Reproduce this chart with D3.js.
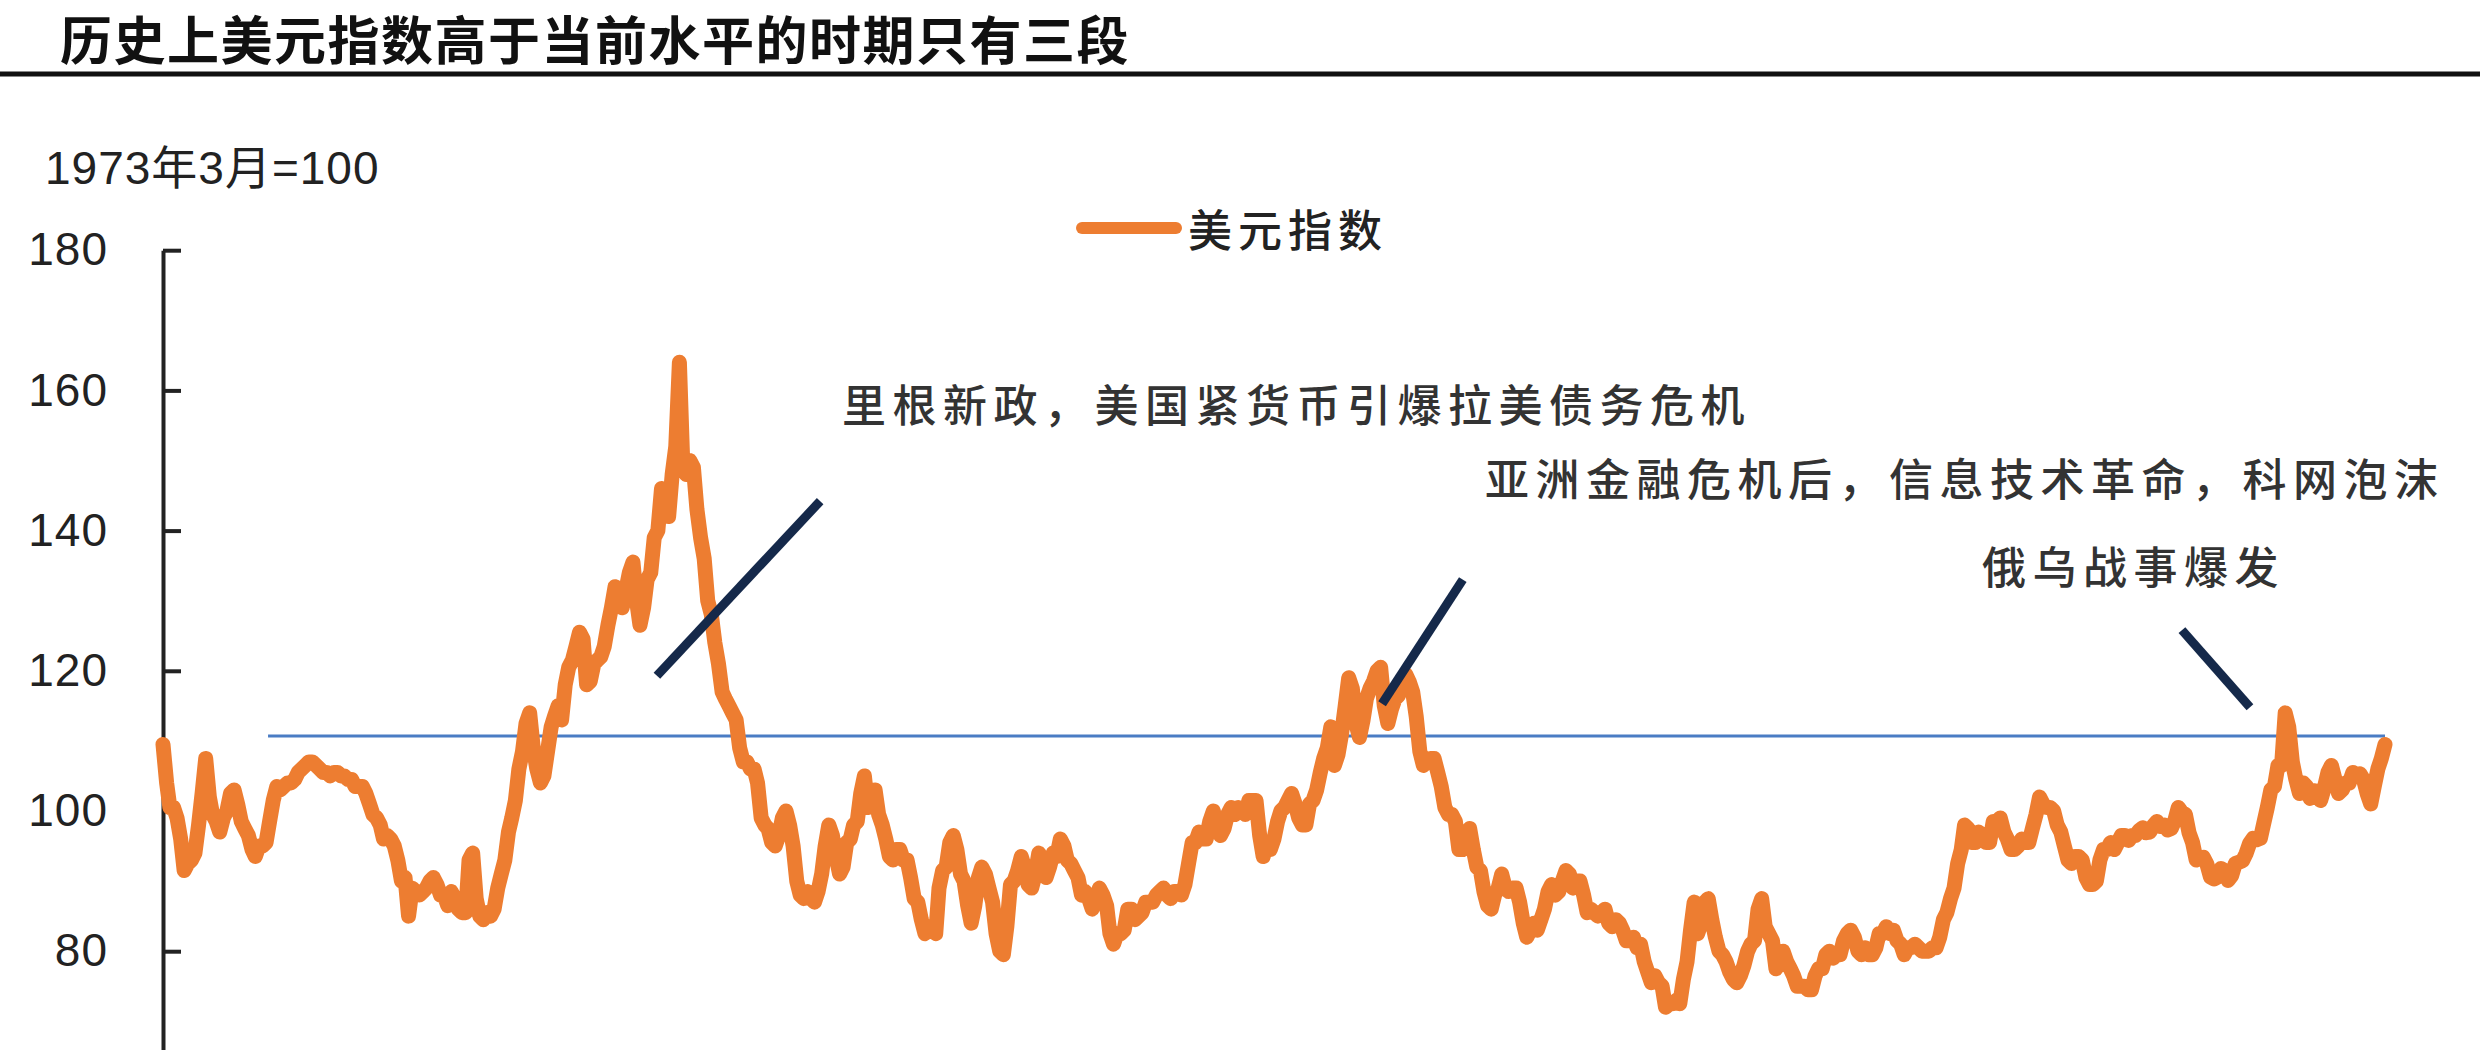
<!DOCTYPE html>
<html><head><meta charset="utf-8">
<script src="https://cdn.jsdelivr.net/npm/d3@7"></script>
<style>
body{margin:0;background:#fff}
svg{display:block}
</style>
</head><body>
<svg id="chart" width="2480" height="1050"></svg>
<script>
// ---------- data ----------
const chartTitle = "历史上美元指数高于当前水平的时期只有三段";
const unitLabel = "1973年3月=100";
const seriesName = "美元指数";
const firstMonth = [1973, 0]; // Jan 1973, monthly observations

const dxy1970s = [
  109.5,104,100.5,100.5,99,96,91.5,92.5,93,94,98,102.5,          // 1973
  107.5,102,99.5,98.5,97,99,100,102.5,103,101,98.5,97.5,         // 1974
  96.5,94.5,93.5,95,95,95.5,98.5,101.5,103.5,103,103.5,104,      // 1975
  104,104.5,105.5,106,106.5,107,107,106.5,106,105.5,105.5,105,   // 1976
  105.5,105.5,105,105,104.5,104.5,103.5,103.5,103.5,102.5,101,99.5, // 1977
  99,98,96,96.5,96,95,93,90,90.5,85,89,88.5,                     // 1978
  88,88.5,89,90,90.5,89.5,88,88,86.5,88.5,87.5,86                // 1979
];
const dxy1980s = [
  85.5,85.5,93,94,87.5,85,84.5,85.5,85,86,89,91,                 // 1980
  93,97,99,101.5,106,108.5,112.5,114,109,106,104,105,            // 1981
  108.5,112,113.5,115,113,118,120.5,121.5,123.5,125.5,124.5,118, // 1982
  118.5,121,121.5,122,123.5,126.5,129,132,131,129,131.5,134,     // 1983
  135.5,130,126.5,129,133,134,139,140,146,145,142,148,           // 1984
  152,164,150,148,150,149,143,139,136,130,128,124,               // 1985
  121,117,116,115,114,113,109,107,107,106,106,104,               // 1986
  99,98,97.5,95.5,95,96.5,99,100,98,95,90,88,                    // 1987
  87.5,88.5,87.5,87,88.5,91,95,98,96.5,93.5,91,92,               // 1988
  95.5,96,98,98.5,102.5,105,100.5,102,103,99.5,98,96             // 1989
];
const dxy1990s = [
  93.5,93,94.5,94.5,93,93,90.5,87.5,87,84.5,82.5,83.5,           // 1990
  83.5,82.5,89,91.5,92,95.5,96.5,94.5,91,90,86.5,84,             // 1991
  86.5,90.5,92,91,89,87,82.5,80,79.5,83.5,89.5,90,               // 1992
  91.5,93.5,92,89.5,89,91,94,93,90.5,92,94,93.5,                 // 1993
  96,95,93,92.5,91.5,90.5,88,88.5,87.5,86,87.5,89,               // 1994
  88,86.5,82.5,81,82.5,82.5,83,86,86,84.5,85,85.5,               // 1995
  87,87,87,88,88.5,89,88,87.5,88.5,88.5,88,89.5,                 // 1996
  92.5,95.5,95.5,97,96,96,98.5,100,97.5,96.5,97.5,99.5,          // 1997
  100.5,99.5,100.5,100,99.5,101.5,101.5,101.5,96.5,93.5,95.5,94.5, // 1998
  96,98.5,100,100.5,101.5,102.5,101,99,98,98,101,101.5           // 1999
];
const dxy2000s = [
  103,105.5,107.5,109,112,106.5,108,111,115,119,117.5,112.5,     // 2000
  110.5,113,116,117.5,118.5,120,120.5,115,112.5,114.5,116,116.5, // 2001
  118.5,119.5,118.5,117,113.5,108.5,106.5,107,107.5,107.5,105.5,103.5, // 2002
  100.5,99.5,99.5,98.5,94.5,94.5,95.5,97.5,94.5,92,91.5,88.5,    // 2003
  86.5,86,88,89,91,89,88.5,89,89,87,84,82,                       // 2004
  83,84,83,84.5,86,88.5,89.5,88,88.5,90,91.5,91,                 // 2005
  89,90,90,88,85.5,86,85.5,85,85.5,86,84,83.5,                   // 2006
  84.5,84,83,81.5,81.5,82,80.5,81,78.5,77,75.5,76.5,             // 2007
  75.5,75,72,72.5,72.5,73,72.5,76,78.5,83,87,82.5,               // 2008
  84,87,87.5,84.5,82,80,79.5,78.5,77,76,75.5,76.5                // 2009
];
const dxy2010s = [
  78,80,81,81.5,86,87.5,83.5,82.5,81.5,77.5,78.5,80,             // 2010
  78.5,77.5,76.5,75,75,75,74.5,74.5,76.5,77.5,77.5,79.5,         // 2011
  80,79,79.5,79.5,81.5,82.5,83,82,80,79.5,80.5,79.5,             // 2012
  79.5,80.5,82.5,82.5,83.5,82.5,83,81.5,81,79.5,80.5,80.5,       // 2013
  81,80.5,80,80,80,80.5,80.5,82,84.5,85.5,87.5,89,               // 2014
  92.5,94.5,98,97.5,95.5,95.5,97,96,95.5,95.5,98.5,98.5,         // 2015
  99,97,96,94.5,94.5,95,96,95.5,95.5,97.5,99.5,102,              // 2016
  101,100.5,100.5,100,98,97,95,93,92.5,93.5,93.5,93,             // 2017
  90.5,89.5,89.5,90,93,94.5,94.5,95.5,94.5,95.5,96.5,96.5,       // 2018
  95.8,96.5,96.5,97.2,97.6,96.9,97,97.9,98.5,97.8,98,97.3        // 2019
];
const dxy2020s = [
  97.5,98.7,100.5,99.8,99.5,96.9,95.5,93,93.3,93.4,92.4,90.6,    // 2020
  90.3,90.6,91.8,91.5,90.1,90.8,92.5,92.7,92.9,93.9,95.4,96.1,   // 2021
  95.9,96.1,98.2,100.5,103,103.5,106.5,106.5,114,112,107,104.5,  // 2022
  102.5,104,103.5,101.8,102.9,102.8,101.5,103.3,105.5,106.5,104.5,102.5, // 2023
  103,104,104,105.5,105,105.3,104.5,102.5,101,103.5,106,107.5,   // 2024
  109.5                                                          // 2025-01
];

const yTickValues = [80, 100, 120, 140, 160, 180];
const yDomain = [60, 180];

// horizontal reference: current level
const currentLevel = 110.7;
const currentLevelFrom = 1975.46; // decimal year

// annotations (decimal year, index value)
const noteTexts = ["里根新政，美国紧货币引爆拉美债务危机", "亚洲金融危机后，信息技术革命，科网泡沫", "俄乌战事爆发"];
const noteAnchors = [[1988.89, 158.2], [2003.94, 147.6], [2015.57, 135.1]];
const noteLineFrom = [[1984.56, 119.3], [2001.53, 115.3], [2020.25, 125.8]];
const noteLineTo   = [[1988.38, 144.2], [2003.42, 133.0], [2021.84, 114.8]];

// ---------- build ----------
const values = [].concat(dxy1970s, dxy1980s, dxy1990s, dxy2000s, dxy2010s, dxy2020s);
const start = new Date(firstMonth[0], firstMonth[1], 1);
const series = values.map((v, i) => ({date: d3.timeMonth.offset(start, i), value: v}));
const lastDate = series[series.length - 1].date;

function decYear(t) {
  const y = Math.floor(t);
  const a = new Date(y, 0, 1), b = new Date(y + 1, 0, 1);
  return new Date(a.getTime() + (t - y) * (b - a));
}

const svg = d3.select("#chart");
const W = 2480, H = 1050;
svg.append("rect").attr("width", W).attr("height", H).attr("fill", "#fff");

const x = d3.scaleTime().domain([start, lastDate]).range([163, 2385]);
const y = d3.scaleLinear().domain(yDomain).range([1091.4, 250.2]);

const CJK = "'Noto Sans CJK SC', 'Noto Sans', sans-serif";
const LAT = "'Liberation Sans', Arial, 'Noto Sans CJK SC', sans-serif";

// title
svg.append("text")
  .attr("x", 60).attr("y", 60)
  .attr("font-family", CJK).attr("font-weight", 700)
  .attr("font-size", 52).attr("letter-spacing", 1.5).attr("fill", "#111")
  .text(chartTitle);
svg.append("line")
  .attr("x1", 0).attr("x2", W).attr("y1", 74).attr("y2", 74)
  .attr("stroke", "#111").attr("stroke-width", 5);

// unit label
svg.append("text")
  .attr("x", 45).attr("y", 168)
  .attr("dominant-baseline", "central")
  .attr("font-family", LAT).attr("font-size", 46)
  .attr("letter-spacing", 1).attr("fill", "#222")
  .text(unitLabel);

// y axis
const yAxis = d3.axisLeft(y).tickValues(yTickValues).tickSize(-18).tickSizeOuter(0).tickPadding(55);
const gy = svg.append("g").attr("transform", "translate(163,0)").call(yAxis);
gy.select(".domain").attr("stroke", "#222").attr("stroke-width", 4);
gy.selectAll(".tick line").attr("stroke", "#222").attr("stroke-width", 4);
gy.selectAll(".tick text")
  .attr("font-family", LAT).attr("font-size", 46)
  .attr("letter-spacing", 1).attr("fill", "#222");

// shadow filter for reference line
const defs = svg.append("defs");
const f = defs.append("filter").attr("id", "soft").attr("x", "-5%").attr("y", "-200%").attr("width", "110%").attr("height", "500%");
f.append("feGaussianBlur").attr("stdDeviation", 3);

// reference line
const refY = y(currentLevel);
svg.append("line")
  .attr("x1", x(decYear(currentLevelFrom))).attr("x2", x(lastDate))
  .attr("y1", refY + 7).attr("y2", refY + 7)
  .attr("stroke", "#000").attr("stroke-opacity", 0.13).attr("stroke-width", 8)
  .attr("filter", "url(#soft)");
svg.append("line")
  .attr("x1", x(decYear(currentLevelFrom))).attr("x2", x(lastDate))
  .attr("y1", refY).attr("y2", refY)
  .attr("stroke", "#4A7CC4").attr("stroke-width", 3);

// series line
const line = d3.line().x(d => x(d.date)).y(d => y(d.value));
svg.append("path").datum(series)
  .attr("d", line)
  .attr("fill", "none")
  .attr("stroke", "#ED7D31")
  .attr("stroke-width", 15)
  .attr("stroke-linejoin", "round")
  .attr("stroke-linecap", "round");

// annotation leader lines
noteLineFrom.forEach((p, i) => {
  const q = noteLineTo[i];
  svg.append("line")
    .attr("x1", x(decYear(p[0]))).attr("y1", y(p[1]))
    .attr("x2", x(decYear(q[0]))).attr("y2", y(q[1]))
    .attr("stroke", "#15294A").attr("stroke-width", 9);
});

// annotation texts
noteTexts.forEach((t, i) => {
  svg.append("text")
    .attr("x", x(decYear(noteAnchors[i][0]))).attr("y", y(noteAnchors[i][1]))
    .attr("dominant-baseline", "central")
    .attr("font-family", CJK).attr("font-weight", 500)
    .attr("font-size", 44).attr("letter-spacing", 6.5)
    .attr("fill", "#333")
    .text(t);
});

// legend
const legend = svg.append("g");
legend.append("line")
  .attr("x1", 1082).attr("x2", 1176).attr("y1", 228).attr("y2", 228)
  .attr("stroke", "#ED7D31").attr("stroke-width", 12).attr("stroke-linecap", "round");
legend.append("text")
  .attr("x", 1188).attr("y", 228)
  .attr("dominant-baseline", "central")
  .attr("font-family", CJK).attr("font-weight", 500)
  .attr("font-size", 44).attr("letter-spacing", 6).attr("fill", "#222")
  .text(seriesName);
</script>
</body></html>
